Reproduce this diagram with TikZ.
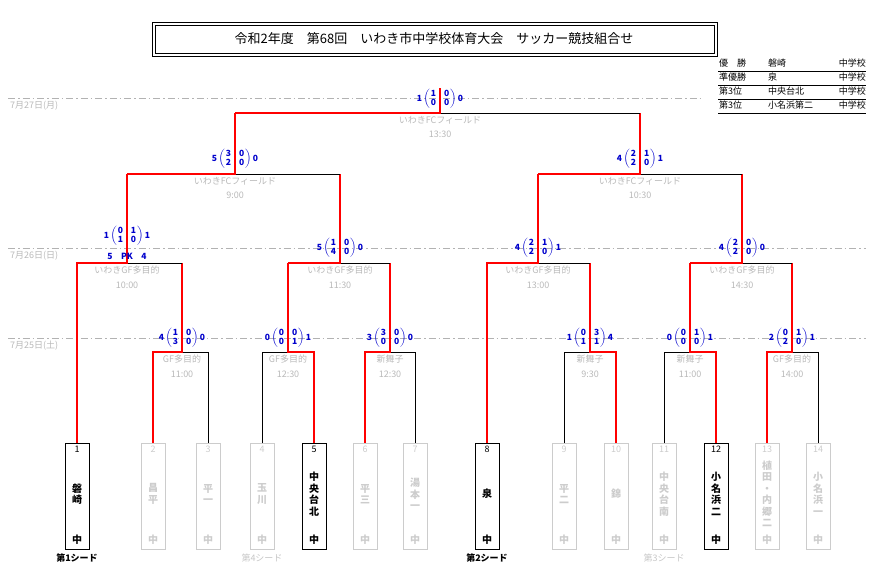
\documentclass[tikz,border=0pt]{standalone}
\usepackage{amsmath}
\usepackage{fontspec}
\setmainfont{Noto Sans CJK JP}
\usetikzlibrary{positioning}
\tikzset{
  team/.style={draw, minimum width=24, minimum height=106, inner sep=0},
  win/.style={red, line width=2pt},
  lose/.style={black, line width=0.6pt},
  day/.style={gray!60, dash pattern=on 7pt off 3pt on 1.5pt off 3pt, line width=0.6pt},
  score/.style={text=blue!80!black, font=\bfseries\fontsize{8.5}{9.5}\selectfont, inner sep=0},
  venue/.style={text=gray!55, font=\fontsize{9}{10.5}\selectfont, align=center, inner sep=0},
}
\newcommand\sco[5]{#1\,$\left(\renewcommand\arraystretch{0.75}\begin{array}{@{\hspace{1pt}}c@{\hspace{8pt}}c@{\hspace{1pt}}}\mathbf{#2}&\mathbf{#3}\\\mathbf{#4}&\mathbf{#5}\end{array}\right)$\,}
\begin{document}
\begin{tikzpicture}[x=1pt, y=-1pt]
\useasboundingbox (0,0) rectangle (876,584);
% title
\draw (152,22) rectangle (717,56);
\draw (155,25) rectangle (714,53);
\node[font=\fontsize{13}{15}\selectfont] (title) at (434,39)
  {令和2年度\quad 第68回\quad いわき市中学校体育大会\quad サッカー競技組合せ};
% results
\foreach \i/\r/\s in {0/優\hspace{1em}勝/磐崎, 1/準優勝/泉, 2/第3位/中央台北, 3/第3位/小名浜第二} {
  \node[anchor=west, font=\fontsize{9}{10}\selectfont, inner sep=0] (r\i) at (719,63+14*\i) {\r};
  \node[anchor=west, font=\fontsize{9}{10}\selectfont, inner sep=0] (s\i) at (768,63+14*\i) {\s};
  \node[anchor=east, font=\fontsize{9}{10}\selectfont, inner sep=0] (u\i) at (866,63+14*\i) {中学校};
  \draw (718,71+14*\i) -- (866,71+14*\i);
}
% days
\draw[day] (8,98) -- (700,98);
\draw[day] (8,248) -- (866,248);
\draw[day] (8,338) -- (866,338);
\node[venue, anchor=west] (d27) at (10,106) {7月27日(月)};
\node[venue, anchor=west] (d26) at (10,256) {7月26日(日)};
\node[venue, anchor=west] (d25) at (10,346) {7月25日(土)};
% teams
\foreach \n/\x/\nm/\c in {1/77/{磐\\崎}/black, 2/153/{昌\\平}/gray!40, 3/208/{平\\一}/gray!40,
    4/262/{玉\\川}/gray!40, 5/314/{中\\央\\台\\北}/black, 6/365/{平\\三}/gray!40,
    7/415/{湯\\本\\一}/gray!40, 8/487/{泉}/black, 9/564/{平\\二}/gray!40,
    10/616/{錦}/gray!40, 11/664/{中\\央\\台\\南}/gray!40, 12/716/{小\\名\\浜\\二}/black,
    13/767/{植\\田\\・\\内\\郷\\二}/gray!40, 14/818/{小\\名\\浜\\一}/gray!40} {
  \node[team, draw=\c] (t\n) at (\x,496) {};
  \node[text=\c, font=\fontsize{9}{10}\selectfont, inner sep=0, anchor=north] (n\n) at (\x,446) {\n};
  \node[text=\c, font=\bfseries\fontsize{10}{11.5}\selectfont, align=center, inner sep=0] (m\n) at (\x,494) {\nm};
  \node[text=\c, font=\bfseries\fontsize{10}{11}\selectfont, inner sep=0] (z\n) at (\x,540) {中};
}
\node[font=\bfseries\fontsize{9}{10}\selectfont, anchor=north] (seed1) at (77,550) {第1シード};
\node[font=\fontsize{9}{10}\selectfont, text=gray!45, anchor=north] (seed4) at (262,550) {第4シード};
\node[font=\bfseries\fontsize{9}{10}\selectfont, anchor=north] (seed2) at (487,550) {第2シード};
\node[font=\fontsize{9}{10}\selectfont, text=gray!45, anchor=north] (seed3) at (664,550) {第3シード};
% junctions
\foreach \m/\x/\y in {a/182/352, b/288/352, c/390/352, d/590/352, e/690/352, f/792/352,
    qa/127/263, qb/340/263, qc/538/263, qd/742/263, sa/235/174, sb/640/174, fin/440/113}
  \coordinate (\m) at (\x,\y);
\coordinate (top) at (440,88);
% first round
\draw[lose] (t3.north) |- (a);  \draw[win] (t2.north) |- (a) -- (qa -| a);
\draw[lose] (t4.north) |- (b);  \draw[win] (t5.north) |- (b) -- (qb -| b);
\draw[lose] (t7.north) |- (c);  \draw[win] (t6.north) |- (c) -- (qb -| c);
\draw[lose] (t9.north) |- (d);  \draw[win] (t10.north) |- (d) -- (qc -| d);
\draw[lose] (t11.north) |- (e); \draw[win] (t12.north) |- (e) -- (qd -| e);
\draw[lose] (t14.north) |- (f); \draw[win] (t13.north) |- (f) -- (qd -| f);
% second round
\draw[lose] (qa -| a) -- (qa);  \draw[win] (t1.north) |- (qa) -- (sa -| qa);
\draw[lose] (qb -| c) -- (qb);  \draw[win] (qb -| b) -- (qb) -- (sa -| qb);
\draw[lose] (qc -| d) -- (qc);  \draw[win] (t8.north) |- (qc) -- (sb -| qc);
\draw[lose] (qd -| f) -- (qd);  \draw[win] (qd -| e) -- (qd) -- (sb -| qd);
% semi-finals and final
\draw[lose] (sa -| qb) -- (sa); \draw[win] (sa -| qa) -- (sa) -- (fin -| sa);
\draw[lose] (sb -| qd) -- (sb); \draw[win] (sb -| qc) -- (sb) -- (fin -| sb);
\draw[lose] (fin) -- (fin -| sb); \draw[win] (fin -| sa) -- (fin) -- (top);
% scores
\node[score] (ca) at (182,338) {\sco{4}{1}{0}{3}{0}0};
\node[score] (cb) at (288,338) {\sco{0}{0}{0}{0}{1}1};
\node[score] (cc) at (390,338) {\sco{3}{3}{0}{0}{0}0};
\node[score] (cd) at (590,338) {\sco{1}{0}{3}{1}{1}4};
\node[score] (ce) at (690,338) {\sco{0}{0}{1}{0}{0}1};
\node[score] (cf) at (792,338) {\sco{2}{0}{1}{2}{0}1};
\node[score] (cqa) at (127,236) {\sco{1}{0}{1}{1}{0}1};
\node[score] (pk) at (127,256) {5\quad PK\quad 4};
\node[score] (cqb) at (340,248) {\sco{5}{1}{0}{4}{0}0};
\node[score] (cqc) at (538,248) {\sco{4}{2}{1}{2}{0}1};
\node[score] (cqd) at (742,248) {\sco{4}{2}{0}{2}{0}0};
\node[score] (csa) at (235,159) {\sco{5}{3}{0}{2}{0}0};
\node[score] (csb) at (640,159) {\sco{4}{2}{1}{2}{0}1};
\node[score] (cfin) at (440,99) {\sco{1}{1}{0}{0}{0}0};
% venues
\foreach \x/\y/\v/\h in {182/352/GF多目的/11:00, 288/352/GF多目的/12:30, 390/352/新舞子/12:30,
    590/352/新舞子/9:30, 690/352/新舞子/11:00, 792/352/GF多目的/14:00,
    127/263/いわきGF多目的/10:00, 340/263/いわきGF多目的/11:30, 538/263/いわきGF多目的/13:00,
    742/263/いわきGF多目的/14:30, 235/174/いわきFCフィールド/9:00, 640/174/いわきFCフィールド/10:30,
    440/113/いわきFCフィールド/13:30}
  \node[venue, anchor=north] at (\x,\y+3) {\v\\[4pt]\h};
\end{tikzpicture}
\end{document}
